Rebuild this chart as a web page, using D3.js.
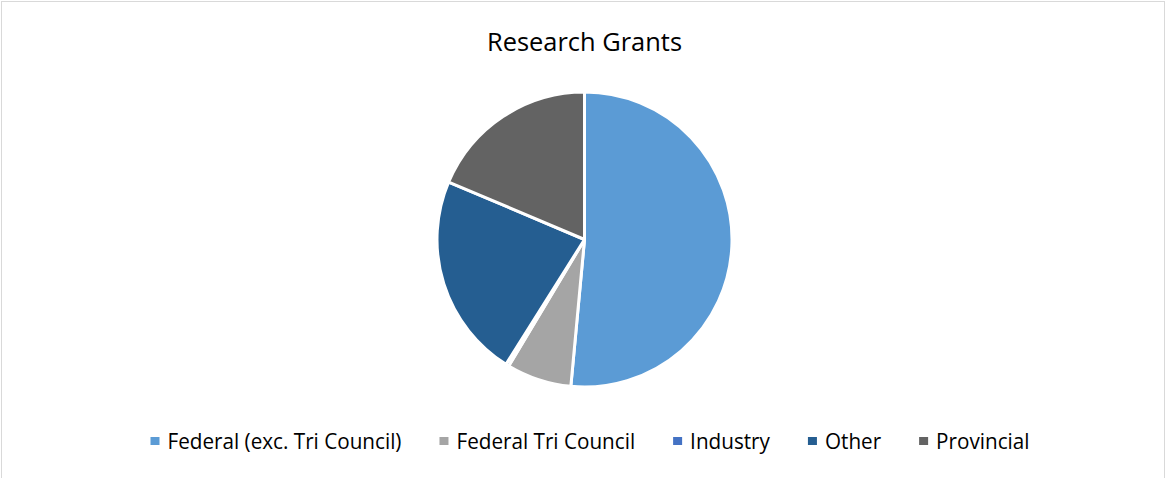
<!DOCTYPE html>
<html><head><meta charset="utf-8">
<script src="https://cdn.jsdelivr.net/npm/d3@7"></script>
<style>html,body{margin:0;padding:0;background:#fff;}svg{display:block;}</style>
</head><body>
<svg id="chart" width="1166" height="478"></svg>
<script>
const categories = ["Federal (exc. Tri Council)", "Federal Tri Council", "Industry", "Other", "Provincial"];
const values = [51.4, 7.1, 0.35, 22.4, 18.6];
const colors = ["#5B9BD5", "#A5A5A5", "#4472C4", "#255E91", "#636363"];
const title = "Research Grants";

const W = 1166, H = 478;
const svg = d3.select("#chart");
const font = "'Open Sans', sans-serif";

svg.append("rect").attr("x", 1.5).attr("y", 1.5).attr("width", W - 3).attr("height", H + 10)
  .attr("fill", "#fff").attr("stroke", "#D9D9D9").attr("stroke-width", 1);

const t = svg.append("text").attr("x", 584.5).attr("y", 51).attr("text-anchor", "middle")
  .attr("font-family", font).attr("font-size", 25).attr("fill", "#000").text(title);
t.attr("textLength", 195).attr("lengthAdjust", "spacingAndGlyphs");

const cx = 584.5, cy = 239.5, r = 147.5;
const data = categories.map((c, i) => ({name: c, value: values[i], color: colors[i]}));
const pie = d3.pie().value(d => d.value).sort(null);
const arc = d3.arc().innerRadius(0).outerRadius(r);
svg.append("g").attr("transform", `translate(${cx},${cy})`)
  .selectAll("path").data(pie(data)).join("path")
  .attr("d", arc).attr("fill", d => d.data.color)
  .attr("stroke", "#fff").attr("stroke-width", 3).attr("stroke-linejoin", "round");

// legend
const lg = svg.append("g");
const fs = 21;
const items = lg.selectAll("g").data(data).join("g");
items.append("rect").attr("width", 9).attr("height", 8).attr("y", -12).attr("fill", d => d.color);
const texts = items.append("text").attr("x", 17).attr("y", 0).attr("font-family", font).attr("font-size", fs)
  .attr("fill", "#000").text(d => d.name);
let nat = [];
texts.each(function() { nat.push(this.getComputedTextLength()); });
const targetTextTotal = 642;
const k = targetTextTotal / d3.sum(nat);
texts.attr("textLength", (d, i) => nat[i] * k).attr("lengthAdjust", "spacingAndGlyphs");
const widths = nat.map(w => 17 + w * k);
const gap = 38;
const total = d3.sum(widths) + gap * (widths.length - 1);
let x = (W - total) / 2 + 7;
items.attr("transform", (d, i) => { const tr = `translate(${x},449)`; x += widths[i] + gap; return tr; });
</script>
</body></html>
